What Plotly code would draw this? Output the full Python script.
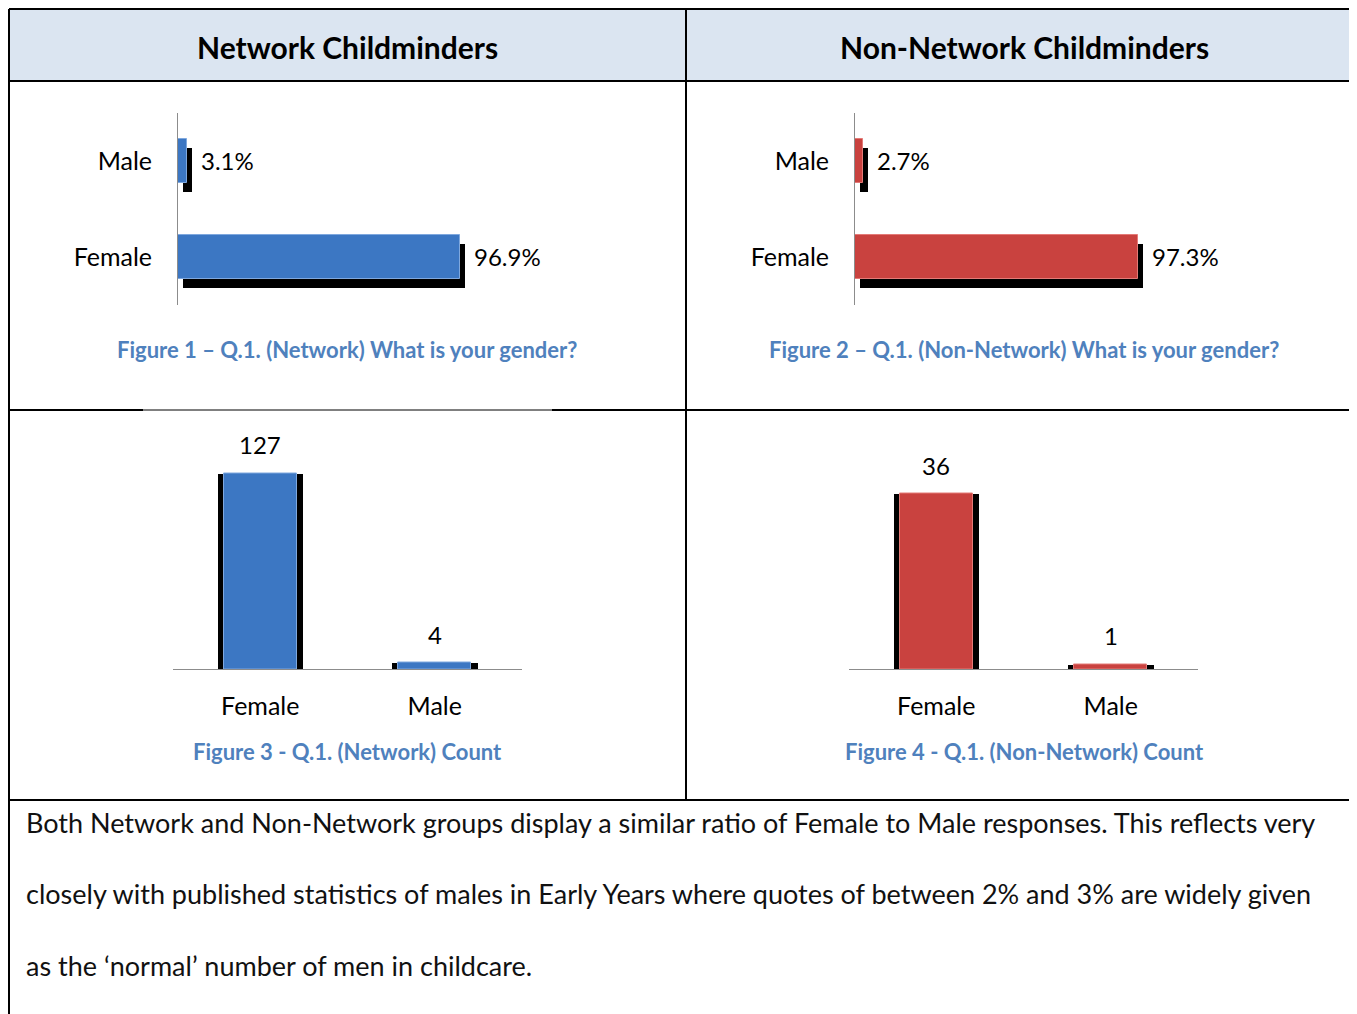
import plotly.graph_objects as go

# data
categories = ["Female", "Male"]
network_pct = [96.9, 3.1]
non_network_pct = [97.3, 2.7]
network_count = [127, 4]
non_network_count = [36, 1]

headers = ["Network Childminders", "Non-Network Childminders"]
captions = [
    "Figure 1 \u2013 Q.1. (Network) What is your gender?",
    "Figure 2 \u2013 Q.1. (Non-Network) What is your gender?",
    "Figure 3 - Q.1. (Network) Count",
    "Figure 4 - Q.1. (Non-Network) Count",
]
body_lines = [
    "Both Network and Non-Network groups display a similar ratio of Female to Male responses. This reflects very",
    "closely with published statistics of males in Early Years where quotes of between 2% and 3% are widely given",
    "as the \u2018normal\u2019 number of men in childcare.",
]

# the page puts the figure 8px in from the top-left corner
PAGE_W, PAGE_H, OFF = 1357, 1014, 8
W, H = PAGE_W, PAGE_H - OFF
FONT = "Lato"
BLUE, BLUE_EDGE = "#3C77C3", "#7FA8DE"
RED, RED_EDGE = "#C9423F", "#E47A77"
CAPTION = "#4F81BD"


# page pixel -> paper fraction
def fx(px):
    return (px - OFF) / W


def fy(py):
    return 1 - (py - OFF) / H


fig = go.Figure()
axes_layout = {}
annotations = []
ax = 1

# horizontal percentage charts: shadow subplot first, main bars on top
for vals, col, edge, left in [(network_pct, BLUE, BLUE_EDGE, 178), (non_network_pct, RED, RED_EDGE, 855)]:
    fig.add_trace(go.Bar(
        x=vals, y=categories, orientation="h", width=0.45,
        marker=dict(color="black", line=dict(width=0)),
        xaxis=f"x{ax}", yaxis=f"y{ax}", hoverinfo="skip", showlegend=False,
    ))
    axes_layout[f"xaxis{ax}"] = dict(domain=[fx(left + 5), fx(left + 354)], range=[0, 120], visible=False,
                                     anchor=f"y{ax}")
    axes_layout[f"yaxis{ax}"] = dict(domain=[fy(314), fy(122)], visible=False, anchor=f"x{ax}",
                                     categoryorder="array", categoryarray=categories)
    ax += 1

    fig.add_trace(go.Bar(
        x=vals, y=categories, orientation="h", width=0.45,
        marker=dict(color=col, line=dict(color=edge, width=1)),
        xaxis=f"x{ax}", yaxis=f"y{ax}", showlegend=False,
        hovertemplate="%{y}: %{x:.1f}%<extra></extra>",
    ))
    axes_layout[f"xaxis{ax}"] = dict(domain=[fx(left), fx(left + 349)], range=[0, 120], visible=False,
                                     anchor=f"y{ax}")
    axes_layout[f"yaxis{ax}"] = dict(
        domain=[fy(305), fy(113)], anchor=f"x{ax}",
        categoryorder="array", categoryarray=categories,
        showline=True, linecolor="#8c8c8c", linewidth=1, showgrid=False, zeroline=False,
        ticks="", ticklabelstandoff=20, tickfont=dict(family=FONT, size=25, color="black"),
    )
    for c, v in zip(categories, vals):
        annotations.append(dict(
            x=v, y=c, xref=f"x{ax}", yref=f"y{ax}", text=f"{v:.1f}%", showarrow=False,
            xanchor="left", yanchor="middle", xshift=12, font=dict(family=FONT, size=24, color="black"),
        ))
    ax += 1

# vertical count charts
for vals, col, edge, left, ymax in [(network_count, BLUE, BLUE_EDGE, 173, 150),
                                    (non_network_count, RED, RED_EDGE, 849, 47.6)]:
    fig.add_trace(go.Bar(
        x=categories, y=vals, width=0.49,
        marker=dict(color="black", line=dict(width=0)),
        xaxis=f"x{ax}", yaxis=f"y{ax}", hoverinfo="skip", showlegend=False,
    ))
    fig.add_trace(go.Bar(
        x=categories, y=vals, width=0.42,
        marker=dict(color=col, line=dict(color=edge, width=1)),
        xaxis=f"x{ax}", yaxis=f"y{ax}", showlegend=False,
        hovertemplate="%{x}: %{y}<extra></extra>",
    ))
    axes_layout[f"xaxis{ax}"] = dict(
        domain=[fx(left), fx(left + 349)], anchor=f"y{ax}",
        showline=True, linecolor="#8c8c8c", linewidth=1, showgrid=False, zeroline=False,
        ticks="", ticklabelstandoff=15, tickfont=dict(family=FONT, size=25, color="black"),
    )
    axes_layout[f"yaxis{ax}"] = dict(domain=[fy(669), fy(437.5)], range=[0, ymax], visible=False,
                                     anchor=f"x{ax}")
    for c, v in zip(categories, vals):
        annotations.append(dict(
            x=c, y=v, xref=f"x{ax}", yref=f"y{ax}", text=str(v), showarrow=False,
            xanchor="center", yanchor="bottom", yshift=12, font=dict(family=FONT, size=24, color="black"),
        ))
    ax += 1

# table text
for text, cx in zip(headers, [347, 1024]):
    annotations.append(dict(x=fx(cx), y=fy(47), xref="paper", yref="paper", text=f"<b>{text}</b>",
                            xanchor="center", yanchor="middle",
                            showarrow=False, font=dict(family=FONT, size=30, color="black")))
for text, (cx, cy) in zip(captions, [(347, 349), (1024, 349), (347, 751), (1024, 751)]):
    annotations.append(dict(x=fx(cx), y=fy(cy), xref="paper", yref="paper", text=f"<b>{text}</b>",
                            xanchor="center", yanchor="middle",
                            showarrow=False, font=dict(family=FONT, size=22, color=CAPTION)))
for text, cy in zip(body_lines, [822, 893, 965]):
    annotations.append(dict(x=fx(24), y=fy(cy), xref="paper", yref="paper", text=text,
                            xanchor="left", yanchor="middle",
                            showarrow=False, font=dict(family=FONT, size=27, color="#111111")))

# table grid (runs off the right edge of the page, as in the reference)
RIGHT = PAGE_W + OFF
shapes = [dict(type="rect", x0=fx(9), x1=fx(RIGHT), y0=fy(81), y1=fy(9), xref="paper", yref="paper",
               fillcolor="#DBE5F1", line=dict(width=0), layer="below")]
for x0, y0, x1, y1, lw in [
    (9, 9, RIGHT, 9, 2), (9, 81, RIGHT, 81, 2), (9, 9, 9, PAGE_H + 2, 2), (686, 9, 686, 800, 2),
    (9, 410, 143, 410, 2), (143, 410, 552, 410, 1), (552, 410, RIGHT, 410, 2), (9, 800, RIGHT, 800, 2),
]:
    shapes.append(dict(type="line", x0=fx(x0), x1=fx(x1), y0=fy(y0), y1=fy(y1), xref="paper", yref="paper",
                       line=dict(color="black", width=lw)))

fig.update_layout(
    width=W, height=H,
    margin=dict(l=0, r=0, t=0, b=0),
    paper_bgcolor="white", plot_bgcolor="rgba(0,0,0,0)",
    barmode="overlay", bargap=0,
    annotations=annotations, shapes=shapes,
    font=dict(family=FONT),
    **axes_layout,
)

fig.write_html("out.html")
